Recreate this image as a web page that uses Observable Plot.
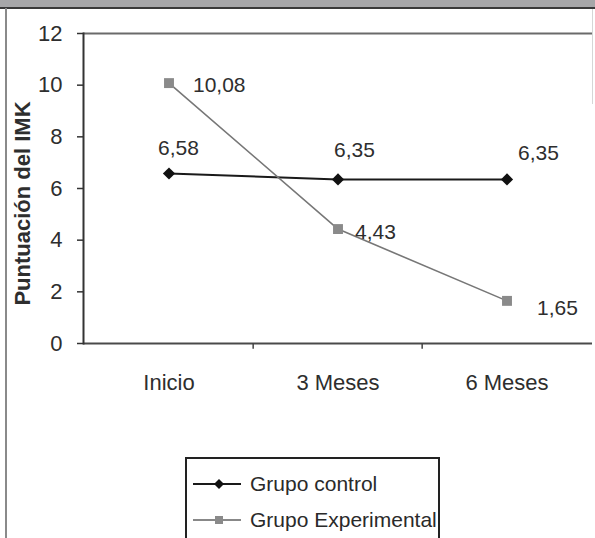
<!DOCTYPE html>
<html>
<head>
<meta charset="utf-8">
<script src="https://cdn.jsdelivr.net/npm/d3@7"></script>
<script src="https://cdn.jsdelivr.net/npm/@observablehq/plot@0.6"></script>
<style>
  html, body { margin: 0; padding: 0; background: #fff; }
  #wrap { position: relative; width: 595px; height: 538px; overflow: hidden; background: #fff;
          font-family: "Liberation Sans", Arial, sans-serif; }
  #topband { position: absolute; left: 0; top: 0; width: 595px; height: 7px; background: #a7a7a9; border-bottom: 2px solid #3a3a3a; }
  #leftline { position: absolute; left: 5px; top: 8px; width: 2px; height: 530px; background: #8a8a8a; }
  #rightline { position: absolute; left: 592px; top: 9px; width: 1px; height: 95px; background: #d6d6d6; }
  #chart { position: absolute; left: 0; top: 0; }
  #chart svg text { fill: #2e2e2e; }
  #legend { position: absolute; left: 185px; top: 457px; width: 251px; height: 90px; border: 2px solid #222; background: #fff; }
  .item { position: absolute; left: 4px; height: 24px; display: flex; align-items: center; font-size: 21px; color: #2a2a2a; white-space: nowrap; }
  .item svg { margin-right: 9px; }
</style>
</head>
<body>
<div id="wrap">
  <div id="topband"></div>
  <div id="leftline"></div>
  <div id="rightline"></div>
  <div id="chart"></div>
  <div id="legend"></div>
</div>
<script>
const categories = ["Inicio", "3 Meses", "6 Meses"];
const seriesNames = ["Grupo control", "Grupo Experimental"];
const control = [6.58, 6.35, 6.35];
const experimental = [10.08, 4.43, 1.65];
const yTicks = [0, 2, 4, 6, 8, 10, 12];

const fmt = v => v.toFixed(2).replace(".", ",");
const ctrlRows = categories.map((c, i) => ({cat: c, value: control[i]}));
const expRows = categories.map((c, i) => ({cat: c, value: experimental[i]}));

const W = 595, H = 538, ML = 83, MR = 3, MT = 33, MB = 195;

// label placement (style, not data)
const ctrlOffsets = [[-11, -25], [-4, -29], [11, -26]];
const expOffsets = [[24, 2], [17, 3], [30, 7]];

const labelMarks = [];
ctrlRows.forEach((r, i) => labelMarks.push(Plot.text([r], {
  x: "cat", y: "value", text: d => fmt(d.value), textAnchor: "start", lineAnchor: "middle",
  dx: ctrlOffsets[i][0], dy: ctrlOffsets[i][1], fontSize: 21
})));
expRows.forEach((r, i) => labelMarks.push(Plot.text([r], {
  x: "cat", y: "value", text: d => fmt(d.value), textAnchor: "start", lineAnchor: "middle",
  dx: expOffsets[i][0], dy: expOffsets[i][1], fontSize: 21
})));

const bw = (W - ML - MR) / categories.length;

const chart = Plot.plot({
  width: W, height: H,
  marginLeft: ML, marginRight: MR, marginTop: MT, marginBottom: MB,
  style: {fontFamily: '"Liberation Sans", Arial, sans-serif', background: "transparent", overflow: "visible"},
  x: {type: "band", domain: categories, padding: 0, label: null},
  y: {domain: [0, 12], label: null},
  marks: [
    Plot.ruleY([12], {stroke: "#6a6a6a", strokeWidth: 2}),
    Plot.ruleY([0], {stroke: "#4a4a4a", strokeWidth: 2}),
    Plot.frame({anchor: "left", stroke: "#333", strokeWidth: 2}),
    Plot.axisY({ticks: yTicks, tickSize: 6, tickPadding: 15, fontSize: 22, stroke: "#333", strokeWidth: 1.5, label: null}),
    Plot.axisX({tickSize: 0, tickPadding: 31, fontSize: 22, label: null}),
    Plot.ruleX(categories.slice(1), {x: d => d, y1: 0, y2: -0.22, dx: -bw / 2, stroke: "#444", strokeWidth: 1.5}),
    Plot.text(["Puntuación del IMK"], {frameAnchor: "left", textAnchor: "middle", lineAnchor: "middle",
      dx: -61, dy: 15, rotate: -90,
      fontWeight: "bold", fontSize: 22, letterSpacing: "1.8px"}),
    Plot.line(ctrlRows, {x: "cat", y: "value", stroke: "#1a1a1a", strokeWidth: 2}),
    Plot.line(expRows, {x: "cat", y: "value", stroke: "#777", strokeWidth: 1.6}),
    Plot.dot(ctrlRows, {x: "cat", y: "value", symbol: "diamond2", r: 5.5, fill: "#111", stroke: "none"}),
    Plot.dot(expRows, {x: "cat", y: "value", symbol: "square", r: 5.6, fill: "#8a8a8a", stroke: "none"}),
    ...labelMarks
  ]
});
document.getElementById("chart").appendChild(chart);

// legend
const legend = document.getElementById("legend");
const legendStyles = [
  {stroke: "#1a1a1a", fill: "#111", shape: "diamond"},
  {stroke: "#888", fill: "#8a8a8a", shape: "square"}
];
seriesNames.forEach((name, i) => {
  const item = document.createElement("div");
  item.className = "item";
  item.style.top = (i === 0 ? 13 : 49) + "px";
  const s = legendStyles[i];
  const marker = s.shape === "diamond"
    ? `<path d="M28 7 L33 12 L28 17 L23 12 Z" fill="${s.fill}"/>`
    : `<rect x="24" y="8" width="8" height="8" fill="${s.fill}"/>`;
  item.innerHTML = `<svg width="50" height="24"><line x1="2" x2="50" y1="12" y2="12" stroke="${s.stroke}" stroke-width="2"/>${marker}</svg><span>${name}</span>`;
  legend.appendChild(item);
});
</script>
</body>
</html>
